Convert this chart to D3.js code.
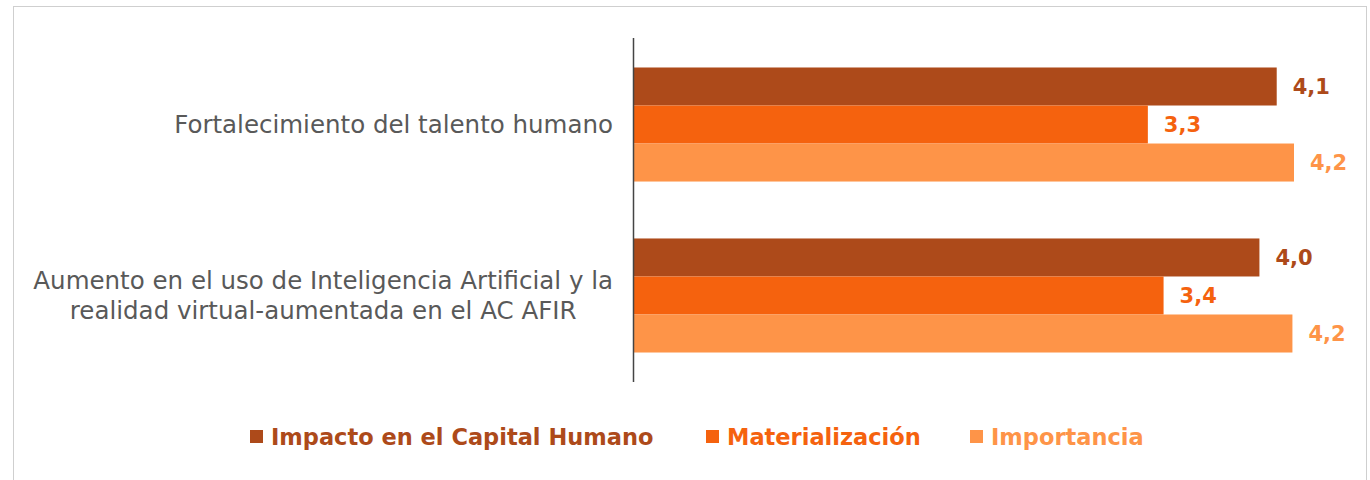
<!DOCTYPE html>
<html>
<head>
<meta charset="utf-8">
<script src="https://cdn.jsdelivr.net/npm/d3@7"></script>
<style>
  body { margin: 0; background: #fff; }
  svg { display: block; font-family: "DejaVu Sans", sans-serif; }
</style>
</head>
<body>
<div id="chart"></div>
<script>
const categories = [
    ['Fortalecimiento del talento humano'],
    ['Aumento en el uso de Inteligencia Artificial y la', 'realidad virtual-aumentada en el AC AFIR']
];
const seriesNames = ['Impacto en el Capital Humano', 'Materialización', 'Importancia'];
const seriesColors = ['#ad4a1a', '#f5620e', '#fe9448'];
// values per category, in series order
const impacto = [4.09, 3.98];
const materializacion = [3.27, 3.37];
const importancia = [4.2, 4.19];

const width = 1370;
const height = 480;

const svg = d3.select('#chart')
    .append('svg')
    .attr('width', width)
    .attr('height', height);

// frame
svg.append('rect')
    .attr('x', 13.5)
    .attr('y', 6.5)
    .attr('width', 1353)
    .attr('height', 490)
    .attr('fill', 'none')
    .attr('stroke', '#cfcfcf');

const data = categories.map((c, i) => ({
    lines: c,
    values: [impacto[i], materializacion[i], importancia[i]]
}));

const x = d3.scaleLinear()
    .domain([0, 4.2])
    .range([634, 1294]);

const y = d3.scaleBand()
    .domain(d3.range(categories.length))
    .range([38, 382])
    .paddingInner(0.333)
    .paddingOuter(0.1725);

const ySub = d3.scaleBand()
    .domain(d3.range(seriesNames.length))
    .range([0, y.bandwidth()]);

const fmt = v => d3.format('.1f')(v).replace('.', ',');

const groups = svg.selectAll('.group')
    .data(data)
    .enter().append('g')
    .attr('class', 'group')
    .attr('transform', (d, i) => `translate(0,${y(i)})`);

groups.selectAll('.bar')
    .data(d => d.values)
    .enter().append('rect')
    .attr('class', 'bar')
    .attr('x', x(0))
    .attr('y', (d, j) => ySub(j))
    .attr('width', d => x(d) - x(0))
    .attr('height', ySub.bandwidth())
    .attr('fill', (d, j) => seriesColors[j]);

groups.selectAll('.value')
    .data(d => d.values)
    .enter().append('text')
    .attr('class', 'value')
    .attr('x', d => x(d) + 16)
    .attr('y', (d, j) => ySub(j) + ySub.bandwidth() / 2)
    .attr('dy', '0.36em')
    .attr('fill', (d, j) => seriesColors[j])
    .style('font-size', '21px')
    .style('font-weight', 'bold')
    .text(fmt);

// category labels: block right-aligned, lines centered within block
groups.each(function(d) {
    const g = d3.select(this);
    const lineH = 30;
    const cy = y.bandwidth() / 2;
    const texts = d.lines.map((line, k) => g.append('text')
        .attr('y', cy + (k - (d.lines.length - 1) / 2) * lineH)
        .attr('dy', '0.36em')
        .attr('fill', '#595959')
        .style('font-size', '24.5px')
        .text(line));
    const maxW = d3.max(texts, t => t.node().getComputedTextLength());
    texts.forEach(t => t.attr('text-anchor', 'middle').attr('x', 613 - maxW / 2));
});

// category axis line
svg.append('line')
    .attr('x1', 633.5).attr('x2', 633.5)
    .attr('y1', 38).attr('y2', 382)
    .attr('stroke', '#444')
    .attr('stroke-width', 1.5);

// legend
const legendX = [250, 706, 970];
const legend = svg.selectAll('.legend')
    .data(seriesNames)
    .enter().append('g')
    .attr('class', 'legend')
    .attr('transform', (d, i) => `translate(${legendX[i]},437)`);

legend.append('rect')
    .attr('x', 0).attr('y', -7)
    .attr('width', 13).attr('height', 13)
    .attr('fill', (d, i) => seriesColors[i]);

legend.append('text')
    .attr('x', 21)
    .attr('dy', '0.36em')
    .attr('fill', (d, i) => seriesColors[i])
    .style('font-size', '22.5px')
    .style('font-weight', 'bold')
    .text(d => d);
</script>
</body>
</html>
